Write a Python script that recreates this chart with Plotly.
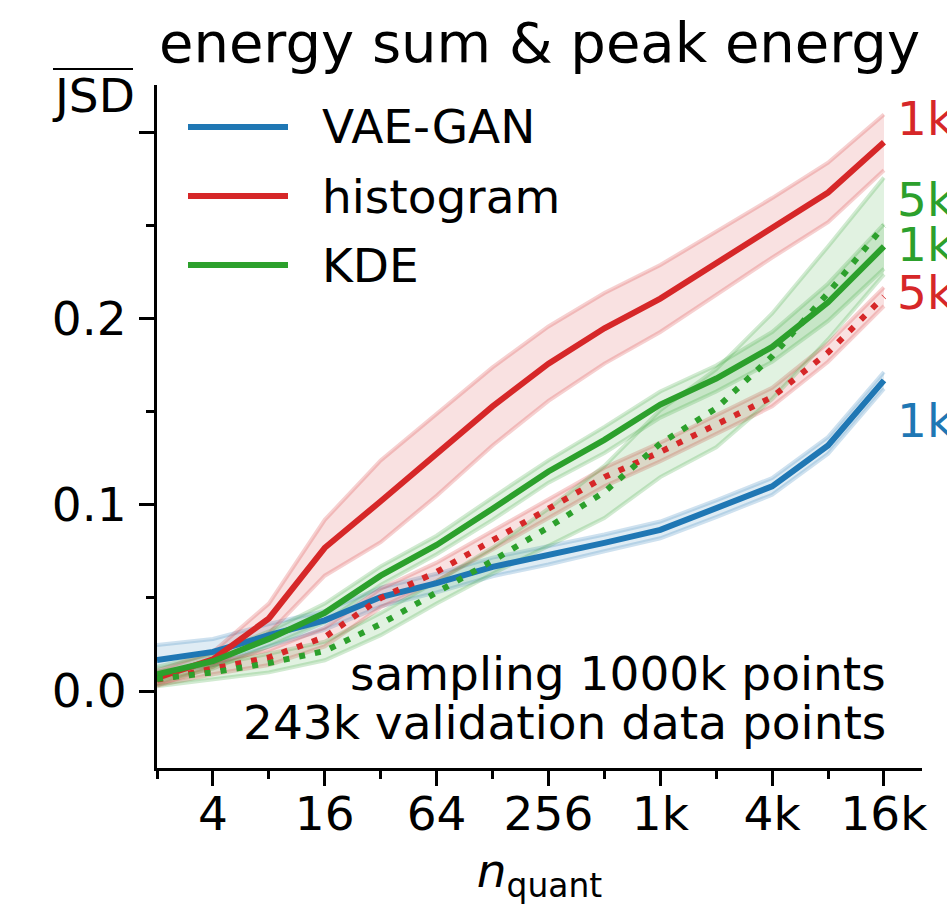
import plotly.graph_objects as go

# n_quant grid (powers of two)
n_quant = [2, 4, 8, 16, 32, 64, 128, 256, 512, 1024, 2048, 4096, 8192, 16384]

# mean JSD and half-width of the spread band, per method / sample size
vae_1k = [0.0167, 0.021, 0.030, 0.038, 0.0505, 0.058, 0.0667, 0.073, 0.0796, 0.0866, 0.098, 0.110, 0.132, 0.167]
vae_1k_err = [0.008, 0.007, 0.006, 0.005, 0.005, 0.005, 0.005, 0.005, 0.0045, 0.0045, 0.0045, 0.0045, 0.0045, 0.0045]

hist_1k = [0.007, 0.017, 0.039, 0.077, 0.102, 0.127, 0.153, 0.176, 0.195, 0.211, 0.230, 0.249, 0.268, 0.295]
hist_1k_err = [0.004, 0.004, 0.008, 0.015, 0.022, 0.022, 0.021, 0.020, 0.019, 0.018, 0.017, 0.016, 0.016, 0.015]

kde_1k = [0.009, 0.016, 0.028, 0.042, 0.062, 0.0785, 0.098, 0.118, 0.135, 0.154, 0.168, 0.185, 0.209, 0.239]
kde_1k_err = [0.004, 0.004, 0.004, 0.005, 0.005, 0.005, 0.006, 0.006, 0.007, 0.007, 0.007, 0.008, 0.010, 0.012]

hist_5k = [0.006, 0.012, 0.018, 0.029, 0.050, 0.064, 0.081, 0.098, 0.115, 0.1285, 0.143, 0.158, 0.182, 0.212]
hist_5k_err = [0.003, 0.003, 0.004, 0.005, 0.005, 0.005, 0.005, 0.005, 0.005, 0.005, 0.005, 0.005, 0.005, 0.005]

kde_5k = [0.0065, 0.010, 0.015, 0.0215, 0.036, 0.053, 0.070, 0.088, 0.107, 0.133, 0.152, 0.180, 0.214, 0.250]
kde_5k_err = [0.004, 0.004, 0.005, 0.005, 0.006, 0.006, 0.007, 0.010, 0.014, 0.018, 0.021, 0.023, 0.025, 0.026]

x_tickvals = [4, 16, 64, 256, 1024, 4096, 16384]
x_ticktext = ["4", "16", "64", "256", "1k", "4k", "16k"]
x_minorvals = [2, 8, 32, 128, 512, 2048, 8192]
y_tickvals = [0.0, 0.1, 0.2, 0.3]
y_ticktext = ["0.0", "0.1", "0.2", ""]
y_minorvals = [0.05, 0.15, 0.25]

legend_names = ["VAE-GAN", "histogram", "KDE"]
end_labels = [("1k", 0.308, "red"), ("5k", 0.264, "green"), ("1k", 0.240, "green"),
              ("5k", 0.2145, "red"), ("1k", 0.1455, "blue")]

COL = {"blue": (31, 119, 180), "red": (214, 39, 40), "green": (44, 160, 44)}


def rgba(c, a):
    r, g, b = COL[c]
    return f"rgba({r},{g},{b},{a})"


FONT = "DejaVu Sans"
FS = 47
W, H = 947, 905
L, R, T, B = 157, 922, 85, 768  # plot area in pixels


def px(xp):
    return (xp - L) / (R - L)


def py(yp):
    return (B - yp) / (B - T)


fig = go.Figure()


def add_band(mean, err, color):
    lo = [m - e for m, e in zip(mean, err)]
    hi = [m + e for m, e in zip(mean, err)]
    fig.add_trace(go.Scatter(x=n_quant, y=lo, mode="lines",
                             line=dict(color=rgba(color, 0.22), width=4),
                             showlegend=False, hoverinfo="skip"))
    fig.add_trace(go.Scatter(x=n_quant, y=hi, mode="lines", fill="tonexty",
                             fillcolor=rgba(color, 0.14),
                             line=dict(color=rgba(color, 0.22), width=4),
                             showlegend=False, hoverinfo="skip"))


# spread bands first, then the mean curves on top
add_band(vae_1k, vae_1k_err, "blue")
add_band(hist_1k, hist_1k_err, "red")
add_band(kde_1k, kde_1k_err, "green")
add_band(hist_5k, hist_5k_err, "red")
add_band(kde_5k, kde_5k_err, "green")

for y, c in [(vae_1k, "blue"), (hist_1k, "red"), (kde_1k, "green")]:
    fig.add_trace(go.Scatter(x=n_quant, y=y, mode="lines",
                             line=dict(color=rgba(c, 1), width=6),
                             showlegend=False, hoverinfo="skip"))
for y, c in [(hist_5k, "red"), (kde_5k, "green")]:
    fig.add_trace(go.Scatter(x=n_quant, y=y, mode="lines",
                             line=dict(color=rgba(c, 1), width=6, dash="6px,10px"),
                             showlegend=False, hoverinfo="skip"))

shapes = []
annotations = []

# legend
for i, (name, c) in enumerate(zip(legend_names, ["blue", "red", "green"])):
    yc = 127 + 69 * i
    shapes.append(dict(type="line", xref="paper", yref="paper",
                       x0=px(188), x1=px(288), y0=py(yc), y1=py(yc),
                       line=dict(color=rgba(c, 1), width=6)))
    annotations.append(dict(text=name, xref="paper", yref="paper",
                            x=px(320), y=py(yc), xanchor="left", yanchor="middle",
                            showarrow=False, font=dict(size=FS, color="black", family=FONT)))

# labels at the right-hand end of each curve
for txt, yv, c in end_labels:
    annotations.append(dict(text=txt, xref="paper", yref="y", x=px(895), y=yv,
                            xanchor="left", yanchor="middle", showarrow=False,
                            font=dict(size=FS, color=rgba(c, 1), family=FONT)))

# info text
annotations.append(dict(text="sampling 1000k points", xref="paper", yref="paper",
                        x=px(888), y=py(673), xanchor="right", yanchor="middle",
                        showarrow=False, font=dict(size=FS, color="black", family=FONT)))
annotations.append(dict(text="243k validation data points", xref="paper", yref="paper",
                        x=px(888), y=py(722), xanchor="right", yanchor="middle",
                        showarrow=False, font=dict(size=FS, color="black", family=FONT)))

# y label with overline
annotations.append(dict(text="JSD", xref="paper", yref="paper", x=px(50), y=py(96),
                        xanchor="left", yanchor="middle", showarrow=False,
                        font=dict(size=FS, color="black", family=FONT)))
shapes.append(dict(type="line", xref="paper", yref="paper", x0=px(53), x1=px(133),
                   y0=py(69), y1=py(69), line=dict(color="black", width=2)))

fig.update_layout(
    width=W, height=H,
    margin=dict(l=L, r=W - R, t=T, b=H - B),
    plot_bgcolor="white", paper_bgcolor="white",
    font=dict(family=FONT, size=FS, color="black"),
    title=dict(text="energy sum & peak energy", x=0.5, xref="paper",
               y=1 - 42 / H, yref="container", yanchor="middle",
               font=dict(size=56, family=FONT, color="black")),
    showlegend=False,
    shapes=shapes, annotations=annotations,
)

fig.update_xaxes(type="log", range=[0.30103, 14.68 * 0.30103], automargin=False,
                 showline=True, linecolor="black", linewidth=3, mirror=False,
                 showgrid=False, zeroline=False,
                 ticks="outside", ticklen=15, tickwidth=3, tickcolor="black",
                 tickmode="array", tickvals=x_tickvals, ticktext=x_ticktext,
                 tickfont=dict(size=FS, family=FONT), ticklabelstandoff=-12,
                 minor=dict(tickmode="array", tickvals=x_minorvals, ticks="outside",
                            ticklen=8, tickwidth=3, tickcolor="black", showgrid=False),
                 title=dict(text="<i>n</i><sub>quant</sub>", standoff=18,
                            font=dict(size=FS, family=FONT)))
fig.update_yaxes(range=[-0.0414, 0.3258], automargin=False,
                 showline=True, linecolor="black", linewidth=3,
                 showgrid=False, zeroline=False,
                 ticks="outside", ticklen=15, tickwidth=3, tickcolor="black",
                 tickmode="array", tickvals=y_tickvals, ticktext=y_ticktext,
                 tickfont=dict(size=FS, family=FONT), ticklabelstandoff=3,
                 minor=dict(tickmode="array", tickvals=y_minorvals, ticks="outside",
                            ticklen=8, tickwidth=3, tickcolor="black", showgrid=False))

fig.write_html("out.html")
